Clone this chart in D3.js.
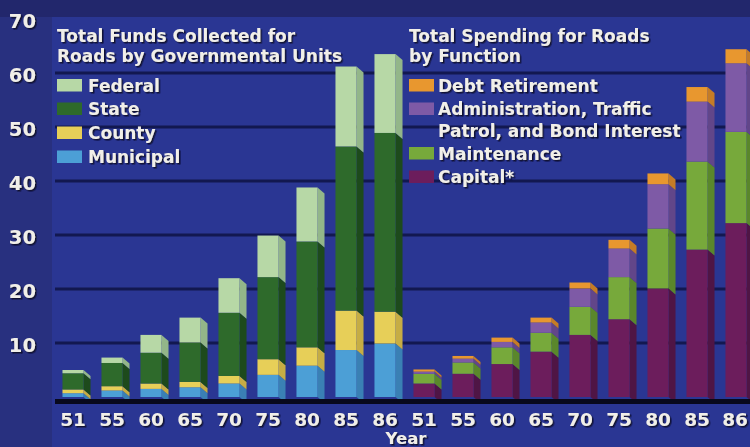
<!DOCTYPE html>
<html>
<head>
<meta charset="utf-8">
<script src="https://cdn.jsdelivr.net/npm/d3@7"></script>
<style>
  html, body { margin: 0; padding: 0; background: #262d7f; }
  svg { display: block; }
  text { font-family: "DejaVu Sans", sans-serif; font-weight: bold; }
</style>
</head>
<body>
<svg id="chart" width="750" height="447"></svg>
<script>
// Road finance, billions of dollars, by year
const years = ["51", "55", "60", "65", "70", "75", "80", "85", "86"];

// Total funds collected for roads, by governmental unit (stack order: bottom to top)
const municipal = [0.7, 1.2, 1.5, 1.8, 2.5, 4.1, 5.8, 8.7, 9.9];
const county    = [0.7, 0.8, 1.0, 1.0, 1.4, 2.9, 3.4, 7.3, 5.9];
const state     = [3.0, 4.3, 5.7, 7.3, 11.7, 15.2, 19.6, 30.4, 33.1];
const federal   = [0.6, 1.0, 3.3, 4.6, 6.4, 7.7, 10.0, 14.8, 14.6];

// Total spending for roads, by function (stack order: bottom to top)
const capital     = [2.5, 4.3, 6.1, 8.4, 11.5, 14.4, 20.1, 27.3, 32.2];
const maintenance = [1.8, 2.1, 3.1, 3.5, 5.2, 7.8, 11.1, 16.3, 16.9];
const admin       = [0.4, 0.7, 1.0, 1.9, 3.4, 5.3, 8.2, 11.1, 12.7];
const debt        = [0.4, 0.5, 0.8, 0.9, 1.1, 1.6, 2.0, 2.7, 2.6];

const yTicks = [10, 20, 30, 40, 50, 60, 70];
const groups = ["funds", "spending"];

const panels = {
  funds: {
    title: ["Total Funds Collected for", "Roads by Governmental Units"],
    series: [
      { name: "Municipal", values: municipal, color: "#4c9fd6", side: "#3a80b4" },
      { name: "County",    values: county,    color: "#e7cf58", side: "#c6ad44" },
      { name: "State",     values: state,     color: "#2e6a2b", side: "#1d4a1c" },
      { name: "Federal",   values: federal,   color: "#b7d8a6", side: "#93b689" }
    ],
    legend: [["Federal"], ["State"], ["County"], ["Municipal"]]
  },
  spending: {
    title: ["Total Spending for Roads", "by Function"],
    series: [
      { name: "Capital*",     values: capital,     color: "#6c1d5c", side: "#4f1545" },
      { name: "Maintenance",  values: maintenance, color: "#77a93b", side: "#5a872b" },
      { name: "Administration, Traffic\nPatrol, and Bond Interest", values: admin, color: "#7e5aa6", side: "#624689" },
      { name: "Debt Retirement", values: debt,     color: "#e8972f", side: "#c57c26" }
    ],
    legend: [["Debt Retirement"], ["Administration, Traffic", "Patrol, and Bond Interest"], ["Maintenance"], ["Capital*"]]
  }
};

const W = 750, H = 447;
const svg = d3.select("#chart");

// Drop shadow used by all lettering
const shadow = svg.append("defs").append("filter").attr("id", "txtShadow")
  .attr("x", "-10%").attr("y", "-20%").attr("width", "130%").attr("height", "150%");
shadow.append("feDropShadow").attr("dx", 1.5).attr("dy", 1.5).attr("stdDeviation", 0.4)
  .attr("flood-color", "#0b0d2c").attr("flood-opacity", 0.9);

// Backgrounds: outer frame, darker top strip, plot panel
svg.append("rect").attr("width", W).attr("height", H).attr("fill", "#28307f");
svg.append("rect").attr("width", W).attr("height", 17).attr("fill", "#22276c");
svg.append("rect").attr("x", 52).attr("y", 17).attr("width", W - 52).attr("height", H - 17)
  .attr("fill", "#2a3693");

const y = d3.scaleLinear().domain([0, 70]).range([397, 19]);

const outer = d3.scaleBand().domain(groups).range([53.5, 755.5]).paddingInner(0).paddingOuter(0);
const inner = d3.scaleBand().domain(years).range([0, outer.bandwidth()])
  .paddingInner(0.46).paddingOuter(0.23);

const depthX = 7, depthY = 6;

// Gridlines
svg.append("g").selectAll("line").data(yTicks.filter(t => t < 70)).join("line")
  .attr("x1", 55).attr("x2", W)
  .attr("y1", d => y(d)).attr("y2", d => y(d))
  .attr("stroke", "#121850").attr("stroke-width", 3);

// Lettering helper
function label(g, x, yy, txt, size, anchor) {
  g.append("text").attr("x", x).attr("y", yy).attr("font-size", size)
    .attr("text-anchor", anchor || "start").attr("fill", "#f1efe9")
    .attr("filter", "url(#txtShadow)").text(txt);
}

// Titles and legends
const legendLayout = {
  funds:    { x: 57,  tx: 88,  rows: [91.5, 115, 139, 163] },
  spending: { x: 409, tx: 438, rows: [91.5, 115, 159.5, 183] }
};
groups.forEach(gk => {
  const p = panels[gk], L = legendLayout[gk];
  const g = svg.append("g");
  p.title.forEach((t, i) => label(g, L.x, 42 + i * 20, t, 17));
  p.legend.forEach((lines, i) => {
    const s = p.series.find(se => se.name.split("\n")[0] === lines[0]);
    g.append("rect").attr("x", L.x).attr("y", L.rows[i] - 12.5)
      .attr("width", 25).attr("height", 12.5).attr("fill", s.color);
    lines.forEach((t, j) => label(g, L.tx, L.rows[i] + j * 21.5, t, 17));
  });
});

// Stacked 3-D bars
groups.forEach(gk => {
  const p = panels[gk];
  const rows = years.map((yr, i) => {
    const r = { year: yr };
    p.series.forEach(s => { r[s.name] = s.values[i]; });
    return r;
  });
  const stack = d3.stack().keys(p.series.map(s => s.name))(rows);
  const g = svg.append("g").attr("transform", `translate(${outer(gk)},0)`);
  const bw = inner.bandwidth();
  stack.forEach((layer, li) => {
    const s = p.series[li];
    const lg = g.append("g");
    // side face: parallelogram receding right and down
    lg.selectAll("path.side").data(layer).join("path").attr("class", "side")
      .attr("d", d => {
        const x1 = inner(d.data.year) + bw;
        const yt = y(d[1]), yb = y(d[0]);
        return `M${x1},${yt}L${x1 + depthX},${yt + depthY}L${x1 + depthX},${yb + depthY}L${x1},${yb}Z`;
      })
      .attr("fill", s.side);
    lg.selectAll("rect").data(layer).join("rect")
      .attr("x", d => inner(d.data.year))
      .attr("y", d => y(d[1]))
      .attr("width", bw)
      .attr("height", d => y(d[0]) - y(d[1]))
      .attr("fill", s.color);
  });
  // year labels
  const tg = svg.append("g");
  years.forEach(yr => label(tg, Math.min(outer(gk) + inner(yr) + bw / 2, 735), 426, yr, 18.5, "middle"));
});

// Baseline
svg.append("rect").attr("x", 55).attr("y", 399).attr("width", W - 55).attr("height", 5).attr("fill", "#08091c");

// Y-axis values
const ay = svg.append("g");
yTicks.forEach(t => label(ay, 36, y(t) + 8.5, String(t), 19.5, "end"));

// Axis title
label(svg.append("g"), 406, 443.5, "Year", 16.5, "middle");
</script>
</body>
</html>
